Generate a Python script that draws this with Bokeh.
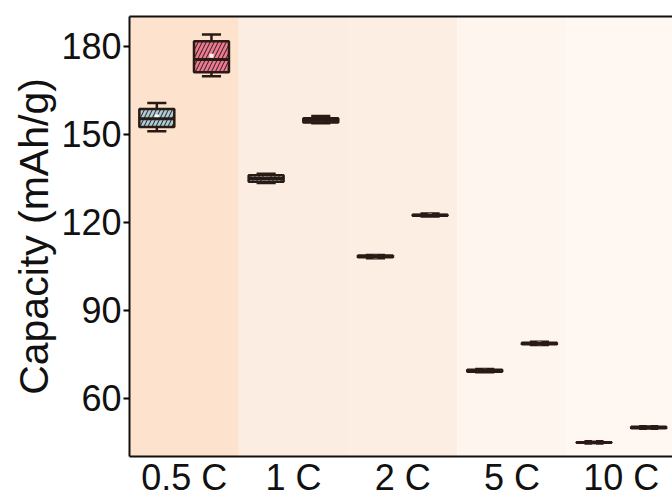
import numpy as np
from bokeh.plotting import figure
from bokeh.models import Range1d, FixedTicker, LinearAxis, BoxAnnotation
from bokeh.embed import file_html
from bokeh.resources import INLINE

# ---- data ----
rates = ["0.5 C", "1 C", "2 C", "5 C", "10 C"]
band_colors = ["#FDE3CD", "#FCEDE3", "#FDEEE3", "#FEF5EE", "#FEF7F2"]

# series A (blue)
a_low = [151.1, 133.4, 107.8, 68.9, 44.6]
a_q1 = [152.5, 133.9, 108.1, 69.1, 44.9]
a_med = [155.3, 135.0, 108.4, 69.4, 45.0]
a_q3 = [158.7, 136.1, 108.7, 69.8, 45.1]
a_high = [160.7, 136.6, 108.9, 70.0, 45.4]
a_mean = [156.1, 135.0, 108.4, 69.4, 45.0]

# series B (pink)
b_low = [169.8, 153.8, 122.0, 78.2, 49.7]
b_q1 = [171.2, 154.1, 122.3, 78.5, 49.8]
b_med = [175.5, 154.8, 122.45, 78.75, 50.1]
b_q3 = [181.8, 155.5, 122.6, 79.0, 50.3]
b_high = [184.1, 156.3, 123.0, 79.3, 50.5]
b_mean = [176.8, 155.0, 122.5, 78.8, 50.1]

y_ticks = [60, 90, 120, 150, 180]

DARK = "#2a1a14"
FONT = "Liberation Sans"

p = figure(width=672, height=503,
           x_range=Range1d(-0.5, 4.468), y_range=Range1d(40.2, 190.2),
           output_backend="svg", toolbar_location=None,
           min_border_left=129, min_border_right=0,
           min_border_top=16, min_border_bottom=47,
           outline_line_color=None, background_fill_color="white")
p.grid.visible = False

# background bands
for i, c in enumerate(band_colors):
    p.add_layout(BoxAnnotation(left=i - 0.5, right=i + 0.5, fill_color=c,
                               fill_alpha=1.0, line_color=None, level="underlay"))

idx = np.arange(len(rates))
box_w = 0.32
cap_w = 0.175

series = [
    (a_low, a_q1, a_med, a_q3, a_high, a_mean, -0.25, "#A8CFDB"),
    (b_low, b_q1, b_med, b_q3, b_high, b_mean, 0.25, "#EE7A96"),
]
for low, q1, med, q3, high, mean, off, col in series:
    x = idx + off
    p.segment(x, q3, x, high, line_color=DARK, line_width=2.5)
    p.segment(x, low, x, q1, line_color=DARK, line_width=2.5)
    p.segment(x - cap_w / 2, high, x + cap_w / 2, high, line_color=DARK, line_width=2.5)
    p.segment(x - cap_w / 2, low, x + cap_w / 2, low, line_color=DARK, line_width=2.5)
    # box fill with hatch
    p.vbar(x=x, width=box_w, bottom=q1, top=q3, fill_color=col, line_color=None,
           hatch_pattern="/", hatch_color=DARK, hatch_alpha=0.85,
           hatch_scale=8, hatch_weight=1.1)
    # mean marker (under outline and median)
    p.scatter(x, mean, marker="square", size=4, fill_color="white", line_color=None)
    # box outline
    p.vbar(x=x, width=box_w, bottom=q1, top=q3, fill_color=None,
           line_color=DARK, line_width=2.5)
    p.segment(x - box_w / 2, med, x + box_w / 2, med, line_color=DARK, line_width=3)

# y axis
p.yaxis.ticker = FixedTicker(ticks=y_ticks)
p.yaxis.axis_label = "Capacity (mAh/g)"
p.yaxis.axis_label_text_font = FONT
p.yaxis.axis_label_text_font_size = "41px"
p.yaxis.axis_label_text_font_style = "normal"
p.yaxis.axis_label_text_color = "#111111"
p.yaxis.axis_label_standoff = 1
p.yaxis.major_label_text_font = FONT
p.yaxis.major_label_text_font_size = "36px"
p.yaxis.major_label_text_color = "#111111"
p.yaxis.major_label_standoff = 2
p.yaxis.major_tick_out = 6
p.yaxis.major_tick_in = 0
p.yaxis.major_tick_line_width = 2
p.yaxis.minor_tick_line_color = None
p.yaxis.axis_line_width = 2
p.yaxis.axis_line_color = "#111111"

# x axis
p.xaxis.ticker = FixedTicker(ticks=list(idx))
p.xaxis.major_label_overrides = {int(i): r for i, r in zip(idx, rates)}
p.xaxis.major_label_text_font = FONT
p.xaxis.major_label_text_font_size = "36px"
p.xaxis.major_label_text_color = "#111111"
p.xaxis.major_label_standoff = 0
p.xaxis.major_tick_out = 0
p.xaxis.major_tick_in = 0
p.xaxis.minor_tick_line_color = None
p.xaxis.axis_line_width = 2
p.xaxis.axis_line_color = "#111111"

# top frame line
top = LinearAxis(ticker=FixedTicker(ticks=[]), major_label_text_font_size="0px",
                 major_tick_out=0, major_tick_in=0, minor_tick_out=0,
                 axis_line_width=2, axis_line_color="#111111", major_label_standoff=0)
p.add_layout(top, "above")

open("out.html", "w").write(file_html(p, INLINE))
